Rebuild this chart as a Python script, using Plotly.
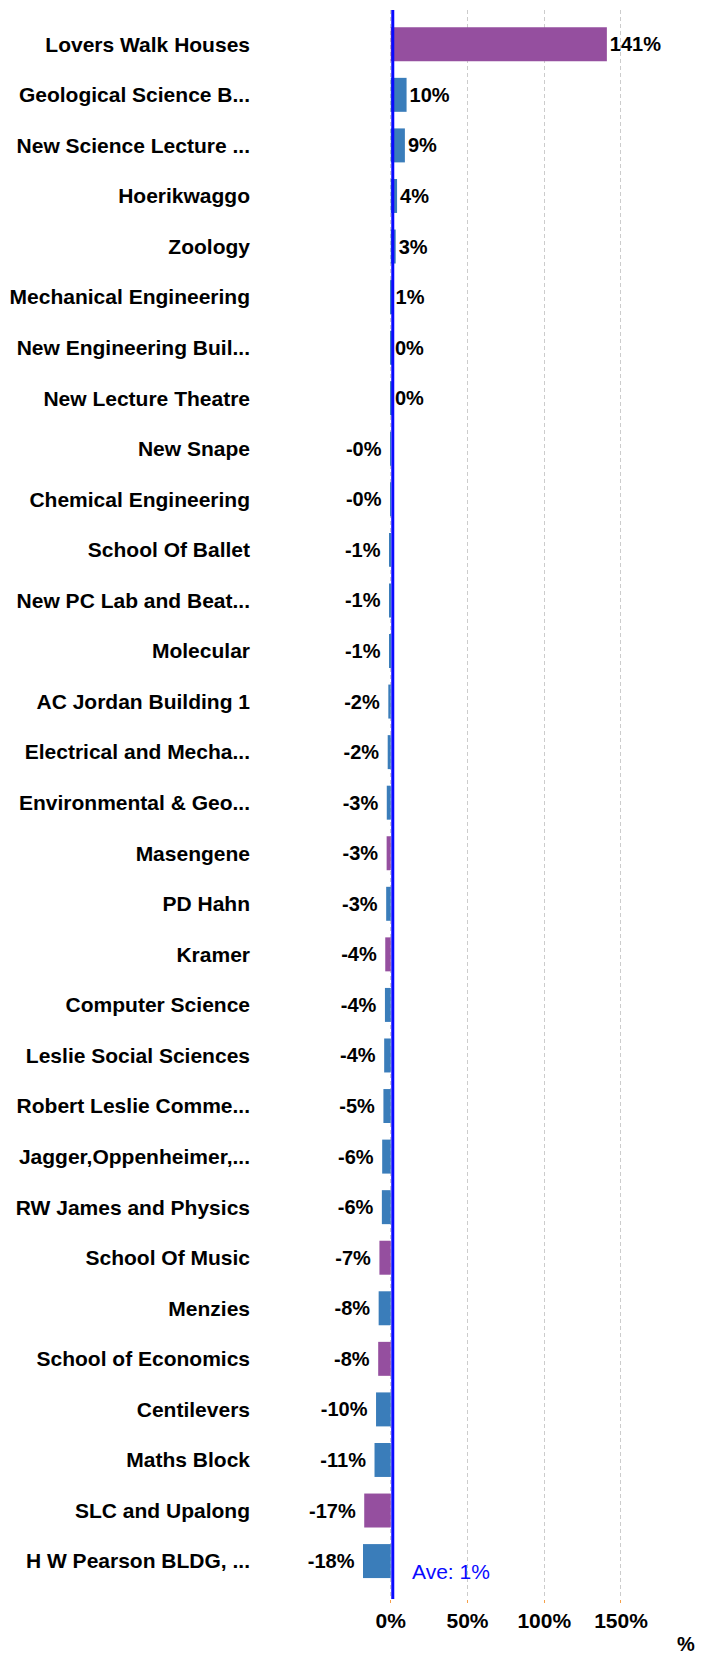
import plotly.graph_objects as go

buildings = [
    "Lovers Walk Houses", "Geological Science B...", "New Science Lecture ...",
    "Hoerikwaggo", "Zoology", "Mechanical Engineering", "New Engineering Buil...",
    "New Lecture Theatre", "New Snape", "Chemical Engineering", "School Of Ballet",
    "New PC Lab and Beat...", "Molecular", "AC Jordan Building 1",
    "Electrical and Mecha...", "Environmental & Geo...", "Masengene", "PD Hahn",
    "Kramer", "Computer Science", "Leslie Social Sciences", "Robert Leslie Comme...",
    "Jagger,Oppenheimer,...", "RW James and Physics", "School Of Music", "Menzies",
    "School of Economics", "Centilevers", "Maths Block", "SLC and Upalong",
    "H W Pearson BLDG, ...",
]
change_pct = [
    140.8, 10.3, 9.2, 4.1, 3.2, 1.2, 0.4, 0.3, -0.2, -0.3, -0.6, -0.8, -1.0, -1.6,
    -2.0, -2.6, -2.7, -3.0, -3.6, -3.8, -4.3, -4.8, -5.6, -5.8, -7.4, -7.9, -8.2,
    -9.6, -10.6, -17.3, -18.1,
]
group = [
    "res", "acad", "acad", "acad", "acad", "acad", "acad", "acad", "acad", "acad",
    "acad", "acad", "acad", "acad", "acad", "acad", "res", "acad", "res", "acad",
    "acad", "acad", "acad", "acad", "res", "acad", "res", "acad", "acad", "res", "acad",
]
average_pct = 1.3
x_ticks = [0, 50, 100, 150]
x_tick_labels = ["0%", "50%", "100%", "150%"]

group_colors = {"res": "#954f9f", "acad": "#3a7dba"}
colors = [group_colors[g] for g in group]
# negative labels sit a little further from their bar end in the reference
labels = [f"{v:.0f}%" + ("\u00a0" if v < 0 else "") for v in change_pct]

# page body has an 8px default margin; compensate so the figure lands where the reference is
OFF = 8
PAGE_W, PAGE_H = 709, 1654
W, H = PAGE_W - OFF, PAGE_H - OFF
plot_left, plot_right, plot_top, plot_bottom = 250, 700, 10, 1599  # page pixels
L = plot_left - OFF
R = PAGE_W - plot_right
T = plot_top - OFF
B = PAGE_H - plot_bottom
plot_w = plot_right - plot_left
plot_h = plot_bottom - plot_top

px_per_unit = 1.552
zero_px = 387.3
x0 = -(zero_px - plot_left) / px_per_unit
x1 = x0 + plot_w / px_per_unit

row_px = 50.56
r0 = -0.678
r1 = r0 + plot_h / row_px

FONT = "Liberation Sans, Arial, sans-serif"

fig = go.Figure()
fig.add_trace(go.Bar(
    y=buildings, x=change_pct, orientation="h",
    marker=dict(color=colors, line=dict(width=0)),
    width=0.672,
    text=labels, textposition="outside", cliponaxis=False,
    constraintext="none",
    textfont=dict(family=FONT, size=20, color="#000000", weight="bold"),
    hoverinfo="skip",
))

fig.add_shape(type="line", xref="x", yref="paper", x0=average_pct, x1=average_pct,
              y0=0, y1=1, line=dict(color="#0a0aff", width=3), layer="above")
fig.add_annotation(xref="x", yref="paper", x=average_pct, y=(plot_bottom - 1571) / plot_h,
                   xanchor="left", yanchor="middle", xshift=17, showarrow=False,
                   text=f"Ave: {average_pct:.0f}%",
                   font=dict(family=FONT, size=21, color="#0a0aff"))
fig.add_annotation(xref="paper", yref="paper", x=(686 - plot_left) / plot_w,
                   y=-(1644 - plot_bottom) / plot_h, xanchor="center", yanchor="middle",
                   showarrow=False, text="%",
                   font=dict(family=FONT, size=20, color="#000000", weight="bold"))

fig.update_layout(
    width=W, height=H,
    margin=dict(l=L, r=R, t=T, b=B, pad=0),
    plot_bgcolor="white", paper_bgcolor="white",
    showlegend=False,
    font=dict(family=FONT),
    xaxis=dict(range=[x0, x1], tickvals=x_ticks, ticktext=x_tick_labels,
               showgrid=True, gridcolor="#cccccc", griddash="4px,3px", gridwidth=1,
               zeroline=False, showline=False,
               ticks="outside", ticklen=3, tickcolor="#f5a04a",
               tickfont=dict(family=FONT, size=21, color="#000000", weight="bold")),
    yaxis=dict(type="category", categoryorder="array", categoryarray=buildings,
               range=[r1, r0], showgrid=False, zeroline=False, showline=False,
               ticks="", ticklabelstandoff=4,
               tickfont=dict(family=FONT, size=21, color="#000000", weight="bold")),
)

fig.write_html("out.html")
